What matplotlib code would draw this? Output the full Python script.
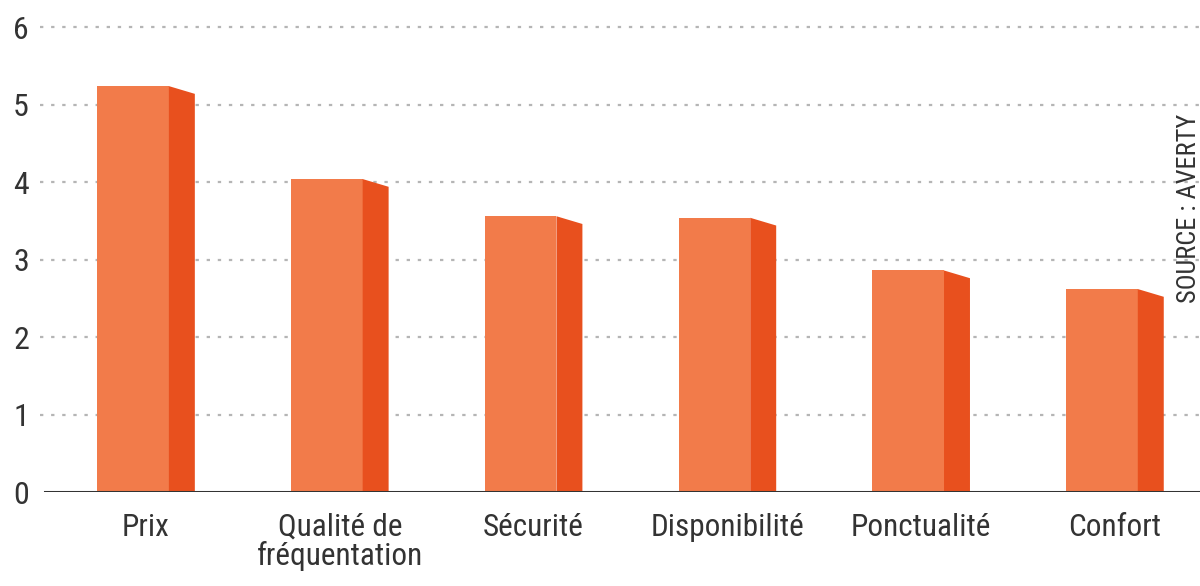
import matplotlib
matplotlib.use("Agg")
import matplotlib.pyplot as plt
from matplotlib.patches import Polygon
import numpy as np

categories = ["Prix", "Qualité de\nfréquentation", "Sécurité", "Disponibilité", "Ponctualité", "Confort"]
values = [5.24, 4.04, 3.56, 3.54, 2.86, 2.62]
yticks = [0, 1, 2, 3, 4, 5, 6]
source = "SOURCE : AVERTY"

FRONT = "#F27B4A"
SIDE = "#E8501E"
FONT = ["Roboto Condensed", "Archivo Narrow", "DejaVu Sans"]

fig = plt.figure(figsize=(12, 5.86), dpi=100)
ax = fig.add_axes([40 / 1200, 94 / 586, 1160 / 1200, 488 / 586])

x = np.arange(len(categories))
front_w = 0.37
side_w = 0.134
drop = 0.10

ax.bar(x, values, width=front_w, color=FRONT, zorder=3, linewidth=0)
for xi, v in zip(x, values):
    x0 = xi + front_w / 2
    poly = Polygon([(x0, 0), (x0, v), (x0 + side_w, v - drop), (x0 + side_w, 0)],
                   closed=True, facecolor=SIDE, edgecolor="none", zorder=3)
    ax.add_patch(poly)

ax.set_xlim(-0.48, 5.506)
ax.set_ylim(0, 6.3)

for t in yticks[1:]:
    ax.axhline(t, color="#b5b5b5", linewidth=1.6, linestyle=(0, (1.5, 3.5)), zorder=1)
ax.axhline(0, xmin=5 / 1160, color="#333333", linewidth=2.2, zorder=4)

ax.set_yticks(yticks)
ax.set_yticklabels([str(t) for t in yticks], fontsize=23, family=FONT, color="#333333")
ax.set_xticks(x + side_w / 2)
ax.set_xticklabels(categories, fontsize=22.5, family=FONT, color="#333333", linespacing=0.95)
ax.tick_params(axis="y", length=0, pad=8)
ax.tick_params(axis="x", length=0, pad=15)
for lab in ax.get_xticklabels():
    lab.set_verticalalignment("top")

for s in ax.spines.values():
    s.set_visible(False)

fig.text(1189 / 1200, 1 - 208 / 586, source, rotation=90, ha="center", va="center",
         fontsize=19, family=FONT, color="#333333")

fig.savefig("out.png", dpi=100, facecolor="white")
